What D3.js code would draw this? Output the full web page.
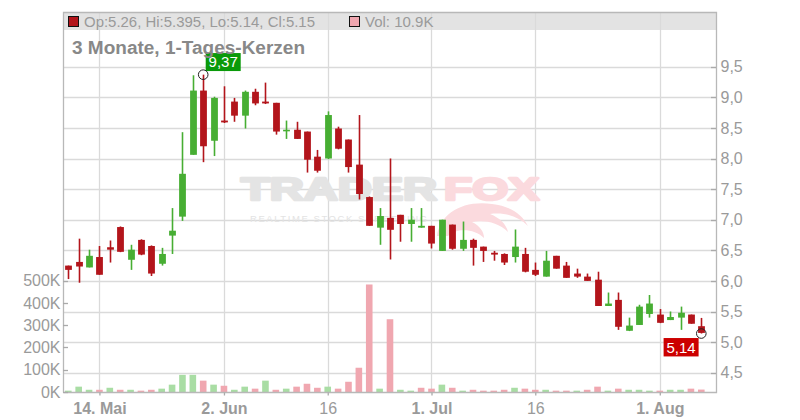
<!DOCTYPE html>
<html>
<head>
<meta charset="utf-8">
<script src="https://cdn.jsdelivr.net/npm/d3@7"></script>
<style>
  html, body { margin: 0; padding: 0; background: #fff; }
  svg { display: block; }
  text { font-family: "Liberation Sans", Arial, sans-serif; }
</style>
</head>
<body>
<svg id="chart" width="800" height="420"></svg>
<script>
// ---------------- DATA ----------------
const dates = [
  "2025-05-09","2025-05-12","2025-05-13","2025-05-14","2025-05-15","2025-05-16","2025-05-19","2025-05-20","2025-05-21","2025-05-22",
  "2025-05-23","2025-05-27","2025-05-28","2025-05-29","2025-05-30","2025-06-02","2025-06-03","2025-06-04","2025-06-05","2025-06-06",
  "2025-06-09","2025-06-10","2025-06-11","2025-06-12","2025-06-13","2025-06-16","2025-06-17","2025-06-18","2025-06-20","2025-06-23",
  "2025-06-24","2025-06-25","2025-06-26","2025-06-27","2025-06-30","2025-07-01","2025-07-02","2025-07-03","2025-07-07","2025-07-08",
  "2025-07-09","2025-07-10","2025-07-11","2025-07-14","2025-07-15","2025-07-16","2025-07-17","2025-07-18","2025-07-21","2025-07-22",
  "2025-07-23","2025-07-24","2025-07-25","2025-07-28","2025-07-29","2025-07-30","2025-07-31","2025-08-01","2025-08-04","2025-08-05",
  "2025-08-06","2025-08-07"
];
const open = [
  6.25,6.31,6.22,6.39,6.55,6.88,6.345,6.67,6.57,6.28,
  6.74,7.05,8.06,9.11,8.29,8.62,8.93,8.70,9.09,8.93,
  8.91,8.45,8.47,8.44,8.03,8.00,8.49,8.31,7.90,7.37,
  6.87,7.03,7.08,6.93,6.87,6.90,6.49,6.92,6.525,6.67,
  6.56,6.46,6.44,6.39,6.44,6.18,6.07,6.41,6.25,6.12,
  6.07,6.02,5.59,5.69,5.185,5.28,5.46,5.45,5.36,5.40,
  5.45,5.26
];
const high = [
  6.25,6.69,6.51,6.57,6.66,6.89,6.59,6.68,6.58,6.54,
  7.19,8.43,9.36,9.37,9.01,9.18,8.99,9.11,9.14,9.24,
  8.91,8.62,8.60,8.44,8.14,8.77,8.52,8.31,8.71,7.38,
  7.19,8.00,7.08,7.19,7.19,6.90,7.00,6.92,6.97,6.69,
  6.56,6.49,6.45,6.84,6.54,6.30,6.49,6.41,6.31,6.20,
  6.12,6.15,5.81,5.81,5.40,5.61,5.77,5.54,5.50,5.58,
  5.45,5.395
];
const low = [
  6.03,5.97,6.22,6.10,6.30,6.47,6.18,6.42,6.08,6.25,
  6.44,6.98,8.06,7.94,8.04,8.58,8.60,8.49,8.87,8.89,
  8.39,8.32,8.32,7.77,7.77,7.99,8.15,7.77,7.33,6.90,
  6.59,6.35,6.64,6.64,6.87,6.53,6.49,6.51,6.49,6.25,
  6.31,6.33,6.26,6.30,6.14,6.08,6.07,6.20,6.05,6.05,
  6.00,5.59,5.59,5.20,5.18,5.28,5.40,5.31,5.36,5.20,
  5.30,5.14
];
const close = [
  6.18,6.235,6.41,6.10,6.51,6.475,6.51,6.43,6.12,6.44,
  6.82,7.75,9.11,8.20,8.99,8.59,8.70,9.09,8.90,8.90,
  8.44,8.47,8.32,7.98,7.80,8.71,8.16,7.86,7.42,6.90,
  7.06,6.835,6.93,7.00,6.90,6.61,7.00,6.525,6.67,6.54,
  6.49,6.43,6.30,6.56,6.15,6.10,6.33,6.20,6.05,6.07,
  6.00,5.59,5.63,5.25,5.27,5.58,5.63,5.315,5.41,5.48,
  5.30,5.15
];
const volume = [
  6000,24000,10000,10000,19000,10000,10000,6000,10000,15000,
  33000,77000,77000,51000,33000,28000,10000,24000,15000,51000,
  10000,15000,24000,37000,19000,24000,15000,46000,109000,483000,
  15000,327000,10000,6000,19000,15000,33000,19000,6000,10000,
  6000,6000,10000,19000,15000,10000,10000,6000,6000,6000,
  10000,24000,6000,15000,10000,10000,6000,6000,10000,10000,
  15000,10900
];
const xTickDates  = ["2025-05-14","2025-06-02","2025-06-16","2025-07-01","2025-07-16","2025-08-01"];
const xTickLabels = ["14. Mai","2. Jun","16","1. Jul","16","1. Aug"];
const xTickBold   = [true,true,false,true,false,true];
const priceTicks  = [4.5,5.0,5.5,6.0,6.5,7.0,7.5,8.0,8.5,9.0,9.5];
const volumeTicks = [0,100000,200000,300000,400000,500000];
const titleText   = "3 Monate, 1-Tages-Kerzen";
const legendPrice = "Op:5.26, Hi:5.395, Lo:5.14, Cl:5.15";
const legendVol   = "Vol: 10.9K";

// ---------------- STYLE ----------------
const C = {
  up: "#47ae33", down: "#b3151b",
  volUp: "#a9dda4", volDown: "#f0a7b0",
  grid: "#dadada", axis: "#b8b8b8", text: "#9a9a9a", band: "#e3e3e3"
};
const L = 63, R = 716, T = 12, B = 392;

const svg = d3.select("#chart");
const idx = d3.range(dates.length);

const x = d3.scaleLinear().domain([0, dates.length - 1]).range([68.3, 701.3]);
const yP = d3.scaleLinear().domain([4.5, 9.5]).range([372.7, 66.7]);
const yV = d3.scaleLinear().domain([0, 500000]).range([B, 280.7]);
const xOf = d => x(dates.indexOf(d));

// header band
svg.append("rect").attr("x", L).attr("y", T).attr("width", R - L).attr("height", 18).attr("fill", C.band);

// gridlines
svg.append("g").selectAll("line").data(priceTicks).join("line")
  .attr("x1", L).attr("x2", R).attr("y1", d => Math.round(yP(d)) + 0.5).attr("y2", d => Math.round(yP(d)) + 0.5)
  .attr("stroke", C.grid).attr("stroke-width", 1.3);
svg.append("g").selectAll("line").data(xTickDates).join("line")
  .attr("x1", d => Math.round(xOf(d)) + 0.5).attr("x2", d => Math.round(xOf(d)) + 0.5)
  .attr("y1", T).attr("y2", B)
  .attr("stroke", C.grid).attr("stroke-width", 1.3);

// watermark
const wm = svg.append("g");
wm.append("text").attr("x", 241).attr("y", 200).attr("font-size", 32).attr("font-weight", 900)
  .attr("textLength", 196).attr("lengthAdjust", "spacingAndGlyphs")
  .attr("fill", "#e4e4e4").attr("stroke", "#e4e4e4").attr("stroke-width", 2.6).attr("stroke-linejoin", "round")
  .text("TRADER");
wm.append("text").attr("x", 444).attr("y", 200).attr("font-size", 32).attr("font-weight", 900)
  .attr("textLength", 95).attr("lengthAdjust", "spacingAndGlyphs")
  .attr("fill", "#fbdade").attr("stroke", "#fbdade").attr("stroke-width", 2.6).attr("stroke-linejoin", "round")
  .text("FOX");
wm.append("text").attr("x", 250).attr("y", 221.5).attr("font-size", 9.5)
  .attr("textLength", 177).attr("lengthAdjust", "spacing")
  .attr("fill", "#e3e3e3").text("REALTIME STOCK SCREENING");
wm.append("path")
  .attr("d", "M437,236 C440,214 462,200 492,204 C510,206 522,214 528,226 C518,216 504,212 490,214 C500,218 506,224 508,232 C498,222 484,220 472,222 C480,226 484,232 484,238 C474,228 456,228 448,236 Z")
  .attr("fill", "#fbdade");

// volume bars
svg.append("g").selectAll("rect").data(idx).join("rect")
  .attr("x", i => x(i) - 3.3).attr("width", 6.6)
  .attr("y", i => yV(volume[i])).attr("height", i => B - yV(volume[i]))
  .attr("fill", i => (i === 0 || close[i] >= close[i - 1]) ? C.volUp : C.volDown);

// candles
const cg = svg.append("g");
cg.selectAll("line").data(idx).join("line")
  .attr("x1", i => Math.round(x(i)) + 0.5).attr("x2", i => Math.round(x(i)) + 0.5)
  .attr("y1", i => yP(high[i])).attr("y2", i => yP(low[i]))
  .attr("stroke", i => close[i] >= open[i] ? C.up : C.down).attr("stroke-width", 1.6);
cg.selectAll("rect").data(idx).join("rect")
  .attr("x", i => Math.round(x(i)) + 0.5 - 3.4).attr("width", 6.8)
  .attr("y", i => yP(Math.max(open[i], close[i])))
  .attr("height", i => Math.max(1.6, Math.abs(yP(open[i]) - yP(close[i]))))
  .attr("fill", i => close[i] >= open[i] ? C.up : C.down);

// frame
svg.append("path")
  .attr("d", `M${L + 0.5},${B + 0.5} V${T + 0.5} H${R + 0.5} V${B + 0.5} H${L + 0.5}`)
  .attr("fill", "none").attr("stroke", C.axis).attr("stroke-width", 1.3);

// right price axis
const pAxis = svg.append("g").attr("transform", `translate(${R + 0.5},0)`)
  .call(d3.axisRight(yP).tickValues(priceTicks).tickSize(0).tickPadding(4)
    .tickFormat(d => d3.format(".1f")(d).replace(".", ",")));
pAxis.select(".domain").remove();
pAxis.selectAll("text").attr("fill", C.text).attr("font-size", 16)
  .attr("font-family", "'Liberation Sans', Arial, sans-serif");
svg.append("g").selectAll("line").data(priceTicks).join("line")
  .attr("x1", R - 5).attr("x2", R).attr("y1", d => Math.round(yP(d)) + 0.5).attr("y2", d => Math.round(yP(d)) + 0.5)
  .attr("stroke", "#aaa").attr("stroke-width", 1.3);

// left volume axis
const vAxis = svg.append("g").attr("transform", `translate(${L + 0.5},0)`)
  .call(d3.axisLeft(yV).tickValues(volumeTicks).tickSize(0).tickPadding(3)
    .tickFormat(d => (d / 1000) + "K"));
vAxis.select(".domain").remove();
vAxis.selectAll("text").attr("fill", C.text).attr("font-size", 16)
  .attr("font-family", "'Liberation Sans', Arial, sans-serif");
svg.append("g").selectAll("line").data(volumeTicks).join("line")
  .attr("x1", L).attr("x2", L + 5).attr("y1", d => Math.round(yV(d)) + 0.5).attr("y2", d => Math.round(yV(d)) + 0.5)
  .attr("stroke", "#aaa").attr("stroke-width", 1.3);

// x axis
const xAxis = svg.append("g").attr("transform", `translate(0,${B + 0.5})`)
  .call(d3.axisBottom(x).tickValues(xTickDates.map(d => dates.indexOf(d))).tickSize(3).tickPadding(7)
    .tickFormat((d, k) => xTickLabels[k]));
xAxis.select(".domain").remove();
xAxis.selectAll("line").attr("stroke", "#aaa").attr("stroke-width", 1.3);
xAxis.selectAll("text").attr("fill", C.text).attr("font-size", 16)
  .attr("font-family", "'Liberation Sans', Arial, sans-serif")
  .attr("font-weight", (d, k) => xTickBold[k] ? "bold" : "normal");

// legend
svg.append("rect").attr("x", 68.5).attr("y", 16.5).attr("width", 10).attr("height", 10)
  .attr("fill", C.down).attr("stroke", "#111").attr("stroke-width", 1);
svg.append("text").attr("x", 84).attr("y", 27).attr("font-size", 15).attr("fill", C.text)
  .attr("textLength", 231).attr("lengthAdjust", "spacingAndGlyphs").text(legendPrice);
svg.append("rect").attr("x", 349.5).attr("y", 16.5).attr("width", 10).attr("height", 10)
  .attr("fill", C.volDown).attr("stroke", "#111").attr("stroke-width", 1);
svg.append("text").attr("x", 365).attr("y", 27).attr("font-size", 15).attr("fill", C.text).text(legendVol);

// high / low markers
const iHi = d3.maxIndex(high), iLo = d3.minIndex(low);
const fmt = v => d3.format(".2f")(v).replace(".", ",");
const hx = x(iHi), hy = yP(high[iHi]);
svg.append("rect").attr("x", hx + 2.5).attr("y", hy - 21.6).attr("width", 35).attr("height", 18).attr("fill", "#0a9a0a");
svg.append("text").attr("x", hx + 20).attr("y", hy - 7.5).attr("text-anchor", "middle").attr("font-size", 15)
  .attr("fill", "#fff").text(fmt(high[iHi]));
svg.append("circle").attr("cx", hx).attr("cy", hy).attr("r", 4.8).attr("fill", "none").attr("stroke", "#222").attr("stroke-width", 1);
const lx = x(iLo), ly = yP(low[iLo]);
svg.append("rect").attr("x", lx - 37.7).attr("y", ly + 4.5).attr("width", 35).attr("height", 18.4).attr("fill", "#cc0000");
svg.append("text").attr("x", lx - 20.2).attr("y", ly + 19).attr("text-anchor", "middle").attr("font-size", 15)
  .attr("fill", "#fff").text(fmt(low[iLo]));
svg.append("circle").attr("cx", lx).attr("cy", ly).attr("r", 4.8).attr("fill", "none").attr("stroke", "#222").attr("stroke-width", 1);

// title (drawn above the high marker box, as in the reference)
svg.append("text").attr("x", 72).attr("y", 54).attr("font-size", 18).attr("font-weight", "bold")
  .attr("textLength", 233).attr("lengthAdjust", "spacingAndGlyphs")
  .attr("fill", "#888").text(titleText);
</script>
</body>
</html>
